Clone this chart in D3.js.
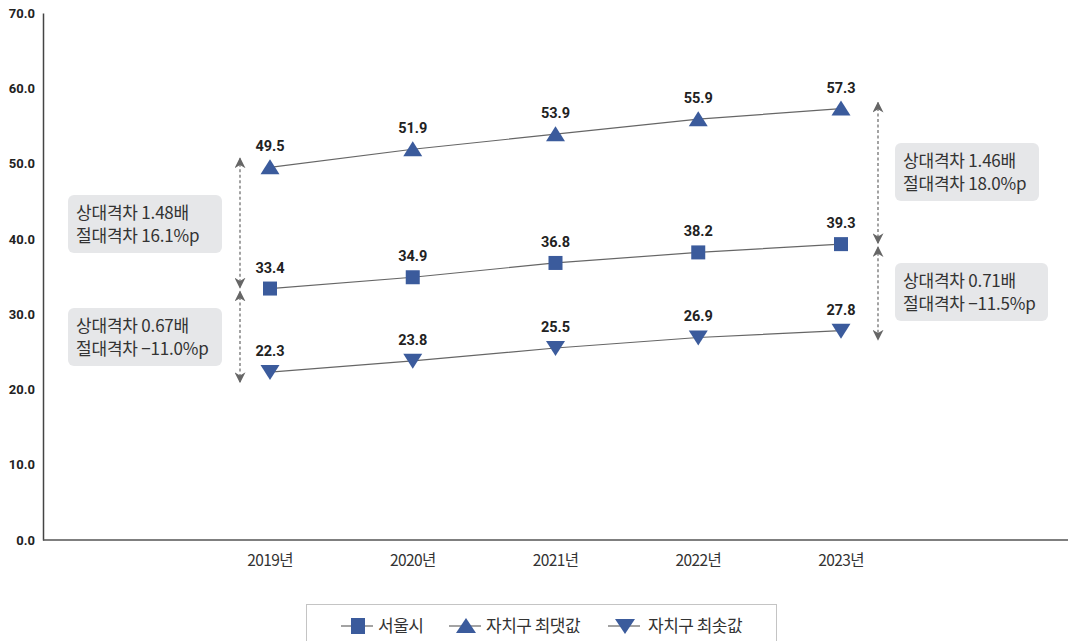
<!DOCTYPE html>
<html>
<head>
<meta charset="utf-8">
<script src="https://cdn.jsdelivr.net/npm/d3@7"></script>
<style>
  html, body { margin: 0; padding: 0; background: #fff; }
  svg { display: block; }
</style>
</head>
<body>
<svg id="chart" width="1072" height="641"></svg>
<script>
// Data
const years = ["2019년", "2020년", "2021년", "2022년", "2023년"];
const seoul = [33.4, 34.9, 36.8, 38.2, 39.3];
const guMax = [49.5, 51.9, 53.9, 55.9, 57.3];
const guMin = [22.3, 23.8, 25.5, 26.9, 27.8];
const yTicks = [0, 10, 20, 30, 40, 50, 60, 70];
const seriesNames = ["서울시", "자치구 최댓값", "자치구 최솟값"];
const gapLeft = ["상대격차 1.48배", "절대격차 16.1%p", "상대격차 0.67배", "절대격차 −11.0%p"];
const gapRight = ["상대격차 1.46배", "절대격차 18.0%p", "상대격차 0.71배", "절대격차 −11.5%p"];

const svg = d3.select("#chart");
const blue = "#3b5b9c";
const lineGray = "#666";
const numFont = "Roboto, 'DejaVu Sans Condensed', sans-serif";
const korFont = "'Noto Sans CJK KR', 'Noto Sans', sans-serif";

const x = d3.scalePoint().domain(years).range([270, 841]);
const y = d3.scaleLinear().domain([0, 70]).range([540, 13]);

// Axes
const yAxis = svg.append("g").attr("transform", "translate(43,0)")
  .call(d3.axisLeft(y).tickValues(yTicks).tickFormat(d3.format(".1f")).tickSize(0).tickPadding(8));
yAxis.select(".domain").attr("stroke", "#444").attr("stroke-width", 1.5);
yAxis.selectAll("text").attr("font-family", numFont).attr("font-weight", 700)
  .attr("font-size", 13).attr("fill", "#222");

svg.append("line").attr("x1", 43).attr("x2", 1068).attr("y1", y(0)).attr("y2", y(0))
  .attr("stroke", "#555").attr("stroke-width", 1.5);

svg.append("g").selectAll("text").data(years).join("text")
  .attr("x", d => x(d)).attr("y", 566)
  .attr("text-anchor", "middle")
  .attr("font-family", korFont).attr("font-size", 15.5).attr("fill", "#333")
  .attr("letter-spacing", -0.6)
  .text(d => d);

// Series
const series = [
  { name: seriesNames[0], values: seoul, sym: "square" },
  { name: seriesNames[1], values: guMax, sym: "up" },
  { name: seriesNames[2], values: guMin, sym: "down" }
];

function marker(g, sym) {
  if (sym === "square") {
    g.append("rect").attr("x", -7).attr("y", -7).attr("width", 14).attr("height", 14).attr("fill", blue);
  } else if (sym === "up") {
    g.append("path").attr("d", "M0,-8 L9.5,7 L-9.5,7 Z").attr("fill", blue);
  } else {
    g.append("path").attr("d", "M0,8 L9.5,-7 L-9.5,-7 Z").attr("fill", blue);
  }
}

const line = d3.line().x((d, i) => x(years[i])).y(d => y(d));

series.forEach(s => {
  svg.append("path").datum(s.values).attr("d", line)
    .attr("fill", "none").attr("stroke", lineGray).attr("stroke-width", 1.2);
  s.values.forEach((v, i) => {
    const g = svg.append("g").attr("transform", `translate(${x(years[i])},${y(v)})`);
    marker(g, s.sym);
    g.append("text").attr("y", -16).attr("text-anchor", "middle")
      .attr("font-family", numFont).attr("font-weight", 700).attr("font-size", 14.5)
      .attr("fill", "#222").text(v.toFixed(1));
  });
});

// Gap arrows (dashed, with arrowheads)
const defs = svg.append("defs");
defs.append("marker").attr("id", "ah").attr("viewBox", "0 0 10 10")
  .attr("refX", 9).attr("refY", 5).attr("markerWidth", 11).attr("markerHeight", 11)
  .attr("markerUnits", "userSpaceOnUse").attr("orient", "auto-start-reverse")
  .append("path").attr("d", "M0,0 L10,5 L0,10 L3,5 Z").attr("fill", "#666");

function gapArrow(xPos, vTop, vBottom, extTop, extBottom) {
  svg.append("line")
    .attr("x1", xPos).attr("x2", xPos)
    .attr("y1", y(vTop) - extTop).attr("y2", y(vBottom) + extBottom)
    .attr("stroke", "#666").attr("stroke-width", 1.2).attr("stroke-dasharray", "3,2.5")
    .attr("marker-start", "url(#ah)").attr("marker-end", "url(#ah)");
}
const ax0 = x(years[0]) - 30, ax1 = x(years[4]) + 37;
gapArrow(ax0, guMax[0], seoul[0], 9, -1);
gapArrow(ax0, seoul[0], guMin[0], -3, 10);
gapArrow(ax1, guMax[4], seoul[4], 6, -1);
gapArrow(ax1, seoul[4], guMin[4], -3, 9);

// Annotation boxes
function noteBox(bx, by, bw, lines) {
  const g = svg.append("g").attr("transform", `translate(${bx},${by})`);
  g.append("rect").attr("width", bw).attr("height", 58).attr("rx", 6).attr("fill", "#e6e7e9");
  lines.forEach((t, i) => {
    g.append("text").attr("x", 8).attr("y", 24 + i * 23)
      .attr("font-family", korFont).attr("font-size", 17).attr("fill", "#333")
      .attr("letter-spacing", -0.2).text(t);
  });
}
noteBox(68, 195, 154, gapLeft.slice(0, 2));
noteBox(68, 308, 154, gapLeft.slice(2, 4));
noteBox(895, 143, 144, gapRight.slice(0, 2));
noteBox(895, 263, 153, gapRight.slice(2, 4));

// Legend
svg.append("rect").attr("x", 306.5).attr("y", 604.5).attr("width", 470).attr("height", 45)
  .attr("fill", "none").attr("stroke", "#888").attr("stroke-dasharray", "1,1");
const legendX = [341, 449, 608];
series.forEach((s, i) => {
  const g = svg.append("g").attr("transform", `translate(${legendX[i]},626)`);
  g.append("line").attr("x1", 0).attr("x2", 32).attr("stroke", lineGray).attr("stroke-width", 1.2);
  const m = g.append("g").attr("transform", "translate(17,0)");
  if (s.sym === "square") {
    m.append("rect").attr("x", -7).attr("y", -8).attr("width", 14).attr("height", 16).attr("fill", blue);
  } else if (s.sym === "up") {
    m.append("path").attr("d", "M0,-8 L10,7 L-10,7 Z").attr("fill", blue);
  } else {
    m.append("path").attr("d", "M0,8 L10,-7 L-10,-7 Z").attr("fill", blue);
  }
  g.append("text").attr("x", i === 2 ? 40 : 37).attr("y", 6)
    .attr("font-family", korFont).attr("font-size", 17).attr("fill", "#333")
    .attr("letter-spacing", -0.5).text(s.name);
});
</script>
</body>
</html>
